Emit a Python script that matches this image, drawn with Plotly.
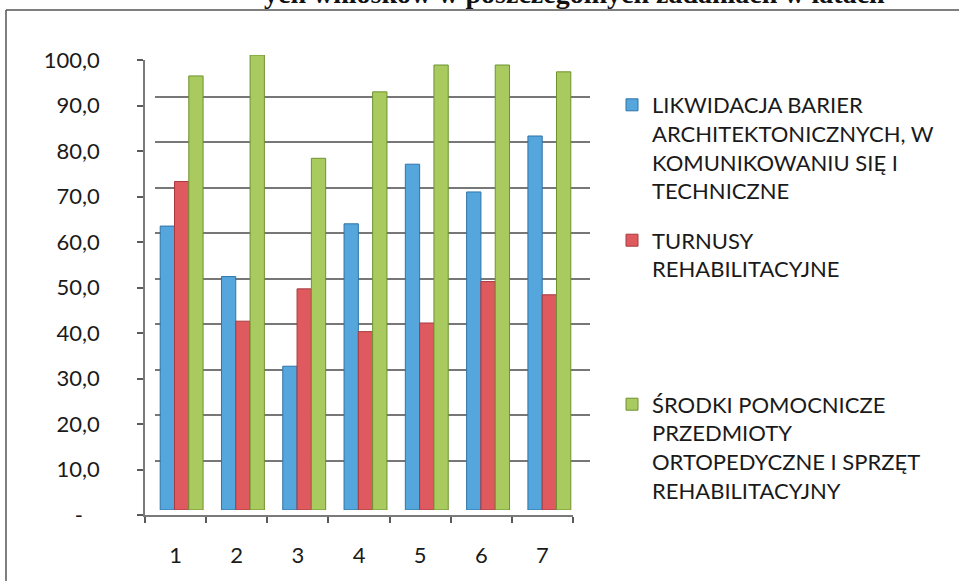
import plotly.graph_objects as go

W, H = 959, 581

categories = [1, 2, 3, 4, 5, 6, 7]
series_names = [
    "LIKWIDACJA BARIER<br>ARCHITEKTONICZNYCH, W<br>KOMUNIKOWANIU SIĘ I<br>TECHNICZNE",
    "TURNUSY<br>REHABILITACYJNE<br>\u00a0<br>\u00a0<br>\u00a0",
    "ŚRODKI POMOCNICZE<br>PRZEDMIOTY<br>ORTOPEDYCZNE I SPRZĘT<br>REHABILITACYJNY",
]
likwidacja = [62.4, 51.3, 31.6, 62.9, 76.0, 69.9, 82.2]
turnusy = [72.2, 41.5, 48.6, 39.2, 41.1, 50.2, 47.3]
srodki = [95.4, 100.0, 77.3, 91.9, 97.8, 97.8, 96.3]
y_tickvals = [0, 10, 20, 30, 40, 50, 60, 70, 80, 90, 100]
y_ticktext = ["-\u00a0\u00a0\u00a0", "10,0", "20,0", "30,0", "40,0", "50,0", "60,0", "70,0", "80,0", "90,0", "100,0"]
title_fragment = "ych wniosków w poszczególnych zadaniach w latach"

colors = ["#55A6DC", "#DE5A5E", "#A9CA5F"]
edge_colors = ["#2F74A8", "#A83A3F", "#6F9230"]

def px_x(p):
    return p / W

def px_y(p):
    return (H - p) / H

fig = go.Figure()

fig.add_trace(go.Scatter(x=[], y=[], xaxis="x", yaxis="y", showlegend=False, hoverinfo="skip"))
fig.add_trace(go.Scatter(x=[], y=[], xaxis="x2", yaxis="y2", showlegend=False, hoverinfo="skip"))
for name, vals, c, ec in zip(series_names, [likwidacja, turnusy, srodki], colors, edge_colors):
    fig.add_trace(go.Bar(
        x=categories, y=vals, name=name, xaxis="x3", yaxis="y3",
        marker=dict(color=c, line=dict(color=ec, width=1)),
        legendgroup=name,
    ))

font_main = "Lato, 'Open Sans', sans-serif"

fig.update_layout(
    width=W, height=H,
    margin=dict(l=0, r=0, t=0, b=0, autoexpand=False),
    paper_bgcolor="white", plot_bgcolor="rgba(0,0,0,0)",
    barmode="group", bargap=0.3, bargroupgap=0.0,
    font=dict(family=font_main, size=22, color="#1a1a1a"),
    xaxis=dict(domain=[px_x(155), px_x(590)], range=[0.5, 7.5], anchor="y",
               showgrid=False, zeroline=False, showticklabels=False, showline=False),
    yaxis=dict(domain=[px_y(506), px_y(51)], range=[0, 100], anchor="x",
               tickvals=y_tickvals, showgrid=True, gridcolor="#777777", gridwidth=1.5,
               zeroline=False, showticklabels=False, showline=False),
    xaxis2=dict(domain=[px_x(145), px_x(573)], range=[0.5, 7.5], anchor="y2",
                tickvals=categories, ticktext=[str(c) for c in categories],
                ticks="", showgrid=False, zeroline=False, showline=True,
                linecolor="#7a7a7a", linewidth=1.5, ticklabelstandoff=20,
                tickfont=dict(size=22, family=font_main),
                minor=dict(tickvals=[c - 0.5 for c in categories] + [categories[-1] + 0.5],
                           ticks="outside", ticklen=6, tickcolor="#5a5a5a", tickwidth=1.5)),
    yaxis2=dict(domain=[px_y(515), px_y(60)], range=[0, 100], anchor="x2",
                tickvals=y_tickvals, ticktext=y_ticktext, ticks="outside", ticklen=6,
                tickcolor="#5a5a5a", tickwidth=1.5,
                showgrid=False, zeroline=False, showline=True, linecolor="#7a7a7a",
                linewidth=1.5, ticklabelstandoff=33,
                tickfont=dict(size=22, family=font_main)),
    xaxis3=dict(domain=[px_x(151), px_x(580)], range=[0.5, 7.5], anchor="y3",
                showgrid=False, zeroline=False, showticklabels=False, showline=False),
    yaxis3=dict(domain=[px_y(510), px_y(55)], range=[0, 100], anchor="x3",
                showgrid=False, zeroline=False, showticklabels=False, showline=False),
    legend=dict(x=px_x(612), y=px_y(84), xanchor="left", yanchor="top",
                font=dict(size=22, family=font_main, color="#1a1a1a"),
                valign="top", tracegroupgap=18, itemwidth=30,
                bgcolor="rgba(0,0,0,0)"),
    shapes=[
        dict(type="line", xref="paper", yref="paper", x0=px_x(6), x1=1.0,
             y0=px_y(10), y1=px_y(10), line=dict(color="#555555", width=1.5)),
        dict(type="line", xref="paper", yref="paper", x0=px_x(6), x1=px_x(6),
             y0=px_y(10), y1=0.0, line=dict(color="#555555", width=1.5)),
    ],
    annotations=[
        dict(text="<b>" + title_fragment + "</b>", xref="paper", yref="paper",
             x=px_x(262), y=px_y(11), xanchor="left", yanchor="bottom",
             showarrow=False, font=dict(family="'Liberation Serif', serif", size=28, color="#111111")),
    ],
)

fig.write_html("out.html", config={"displayModeBar": False},
               post_script="document.body.style.margin='0';document.body.style.overflow='hidden';")
